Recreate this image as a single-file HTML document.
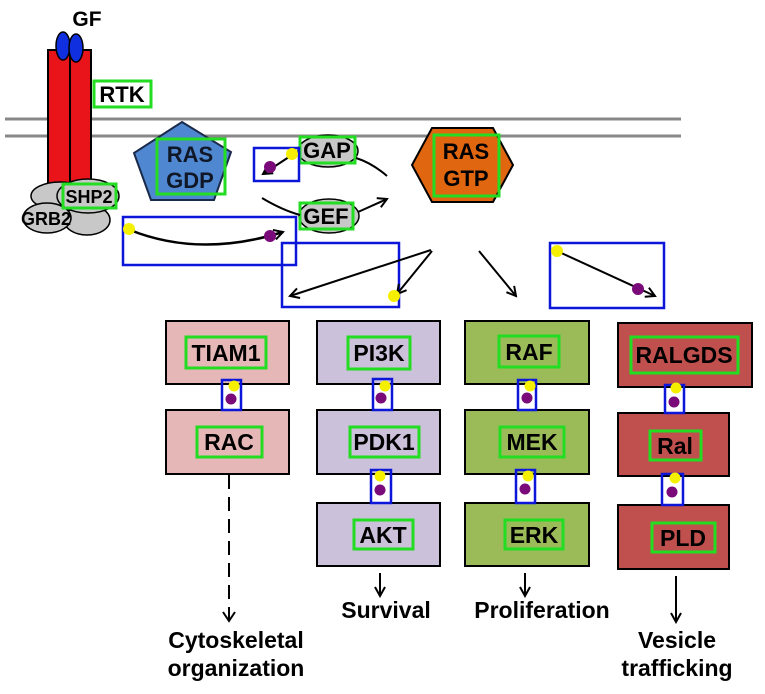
<!DOCTYPE html>
<html><head><meta charset="utf-8"><style>
html,body{margin:0;padding:0;background:#fff;}
svg{display:block;font-family:"Liberation Sans",Arial,sans-serif;font-weight:bold;}
</style></head><body>
<svg width="765" height="694" viewBox="0 0 765 694" xmlns="http://www.w3.org/2000/svg">
<defs>
<marker id="ah" markerWidth="12" markerHeight="12" refX="10" refY="6" orient="auto" markerUnits="userSpaceOnUse">
<path d="M1,1 L10,6 L1,11" fill="none" stroke="#000" stroke-width="2"/>
</marker>
</defs>
<line x1="5" y1="119" x2="681" y2="119" stroke="#888" stroke-width="3"/>
<line x1="5" y1="136" x2="681" y2="136" stroke="#888" stroke-width="3"/>
<rect x="48" y="50" width="22" height="140" fill="#e8141a" stroke="#000" stroke-width="2"/>
<rect x="70" y="50" width="21" height="140" fill="#e8141a" stroke="#000" stroke-width="2"/>
<ellipse cx="63" cy="46" rx="7" ry="14" fill="#1030e0" stroke="#000" stroke-width="1.5"/>
<ellipse cx="76" cy="48" rx="7" ry="14" fill="#1030e0" stroke="#000" stroke-width="1.5"/>
<text x="87" y="26" font-size="21" text-anchor="middle">GF</text>
<rect x="94" y="81" width="57" height="26" fill="#fff" stroke="#22dd22" stroke-width="3"/>
<text x="122" y="102" font-size="22" text-anchor="middle">RTK</text>
<ellipse cx="60" cy="196" rx="29" ry="14" fill="#c8c8c8" stroke="#000" stroke-width="1.5"/>
<ellipse cx="87" cy="220" rx="23" ry="15" fill="#c8c8c8" stroke="#000" stroke-width="1.5"/>
<ellipse cx="88" cy="196" rx="31" ry="17" fill="#c8c8c8" stroke="#000" stroke-width="1.5"/>
<ellipse cx="47" cy="218" rx="24" ry="15" fill="#c8c8c8" stroke="#000" stroke-width="1.5"/>
<text x="46" y="225" font-size="18" text-anchor="middle">GRB2</text>
<rect x="63" y="184" width="53" height="24" fill="none" stroke="#22dd22" stroke-width="3"/>
<text x="89" y="203" font-size="18" text-anchor="middle">SHP2</text>
<polygon points="182,122 231,152 214,200 151,200 134,153" fill="#4f88d0" stroke="#1a2a4a" stroke-width="2"/>
<rect x="157" y="139" width="68" height="55" fill="none" stroke="#22dd22" stroke-width="3"/>
<text x="190" y="162" font-size="22" text-anchor="middle" fill="#101828">RAS</text>
<text x="190" y="188" font-size="22" text-anchor="middle" fill="#101828">GDP</text>
<ellipse cx="328" cy="151" rx="30" ry="16" fill="#c8c8c8" stroke="#000" stroke-width="1.5"/>
<rect x="300" y="137" width="55" height="26" fill="none" stroke="#22dd22" stroke-width="3"/>
<text x="327" y="158" font-size="22" text-anchor="middle">GAP</text>
<ellipse cx="329" cy="216" rx="30" ry="17" fill="#c8c8c8" stroke="#000" stroke-width="1.5"/>
<rect x="300" y="203" width="53" height="26" fill="none" stroke="#22dd22" stroke-width="3"/>
<text x="326" y="224" font-size="22" text-anchor="middle">GEF</text>
<path d="M356,158 Q372,163 387,176" fill="none" stroke="#000" stroke-width="2"/>
<path d="M262,198 Q282,210 300,215" fill="none" stroke="#000" stroke-width="2"/>
<path d="M358,212 L387,199" fill="none" stroke="#000" stroke-width="2" marker-end="url(#ah)"/>
<rect x="254" y="148" width="45" height="33" fill="none" stroke="#0b16d8" stroke-width="2.5"/>
<path d="M292,155 L263,174" stroke="#000" stroke-width="2" marker-end="url(#ah)"/>
<circle cx="292" cy="154" r="6" fill="#f5f000"/>
<circle cx="270" cy="167" r="6" fill="#7a0a7a"/>
<rect x="123" y="217" width="173" height="48" fill="none" stroke="#0b16d8" stroke-width="2.5"/>
<path d="M130,230 Q200,258 283,232" fill="none" stroke="#000" stroke-width="2.5" marker-end="url(#ah)"/>
<circle cx="129" cy="229" r="6" fill="#f5f000"/>
<circle cx="270" cy="236" r="6" fill="#7a0a7a"/>
<polygon points="432,128 493,128 513,165 493,202 432,202 412,165" fill="#e0660f" stroke="#000" stroke-width="2"/>
<rect x="434" y="135" width="65" height="61" fill="none" stroke="#22dd22" stroke-width="3"/>
<text x="466" y="159" font-size="22" text-anchor="middle">RAS</text>
<text x="466" y="186" font-size="22" text-anchor="middle">GTP</text>
<rect x="282" y="243" width="117" height="64" fill="none" stroke="#0b16d8" stroke-width="2.5"/>
<path d="M431,250 L290,296" stroke="#000" stroke-width="2" marker-end="url(#ah)"/>
<path d="M432,251 L397,294" stroke="#000" stroke-width="2" marker-end="url(#ah)"/>
<circle cx="394" cy="296" r="6" fill="#f5f000"/>
<path d="M479,251 L516,296" stroke="#000" stroke-width="2" marker-end="url(#ah)"/>
<rect x="550" y="243" width="114" height="65" fill="none" stroke="#0b16d8" stroke-width="2.5"/>
<path d="M557,251 L655,296" stroke="#000" stroke-width="2" marker-end="url(#ah)"/>
<circle cx="557" cy="251" r="6" fill="#f5f000"/>
<circle cx="638" cy="289" r="6" fill="#7a0a7a"/>
<g stroke="#000" stroke-width="2">
<rect x="166" y="321" width="123" height="63" fill="#e5b8b7"/>
<rect x="166" y="410" width="123" height="64" fill="#e5b8b7"/>
<rect x="317" y="321" width="123" height="63" fill="#ccc1da"/>
<rect x="317" y="410" width="123" height="64" fill="#ccc1da"/>
<rect x="317" y="503" width="123" height="63" fill="#ccc1da"/>
<rect x="465" y="321" width="124" height="63" fill="#9bbb59"/>
<rect x="465" y="410" width="124" height="64" fill="#9bbb59"/>
<rect x="465" y="503" width="124" height="63" fill="#9bbb59"/>
<rect x="618" y="323" width="134" height="64" fill="#c0504d"/>
<rect x="618" y="413" width="111" height="63" fill="#c0504d"/>
<rect x="618" y="505" width="111" height="64" fill="#c0504d"/>
</g>
<g fill="none" stroke="#22dd22" stroke-width="3">
<rect x="186" y="337" width="80" height="31"/>
<rect x="197" y="427" width="65" height="30"/>
<rect x="348" y="337" width="62" height="32"/>
<rect x="350" y="427" width="69" height="30"/>
<rect x="354" y="520" width="59" height="29"/>
<rect x="499" y="336" width="60" height="31"/>
<rect x="500" y="427" width="64" height="30"/>
<rect x="505" y="520" width="58" height="29"/>
<rect x="631" y="337" width="107" height="36"/>
<rect x="650" y="431" width="51" height="29"/>
<rect x="652" y="523" width="63" height="29"/>
</g>
<g font-size="23" text-anchor="middle">
<text x="226" y="361">TIAM1</text>
<text x="229" y="450">RAC</text>
<text x="379" y="361">PI3K</text>
<text x="384" y="450">PDK1</text>
<text x="383" y="543">AKT</text>
<text x="529" y="360">RAF</text>
<text x="532" y="450">MEK</text>
<text x="534" y="543">ERK</text>
<text x="684" y="363">RALGDS</text>
<text x="675" y="454">Ral</text>
<text x="683" y="546">PLD</text>
</g>
<g>
<rect x="222" y="380" width="19" height="30" fill="none" stroke="#0b16d8" stroke-width="2.5"/>
<circle cx="234" cy="386" r="5.5" fill="#f5f000"/><circle cx="231" cy="399" r="5.5" fill="#7a0a7a"/>
<rect x="373" y="379" width="19" height="31" fill="none" stroke="#0b16d8" stroke-width="2.5"/>
<circle cx="385" cy="386" r="5.5" fill="#f5f000"/><circle cx="381" cy="398" r="5.5" fill="#7a0a7a"/>
<rect x="371" y="470" width="20" height="33" fill="none" stroke="#0b16d8" stroke-width="2.5"/>
<circle cx="380" cy="476" r="5.5" fill="#f5f000"/><circle cx="380" cy="490" r="5.5" fill="#7a0a7a"/>
<rect x="518" y="380" width="18" height="30" fill="none" stroke="#0b16d8" stroke-width="2.5"/>
<circle cx="530" cy="386" r="5.5" fill="#f5f000"/><circle cx="527" cy="398" r="5.5" fill="#7a0a7a"/>
<rect x="516" y="470" width="19" height="33" fill="none" stroke="#0b16d8" stroke-width="2.5"/>
<circle cx="528" cy="476" r="5.5" fill="#f5f000"/><circle cx="525" cy="489" r="5.5" fill="#7a0a7a"/>
<rect x="665" y="385" width="19" height="28" fill="none" stroke="#0b16d8" stroke-width="2.5"/>
<circle cx="676" cy="388" r="5.5" fill="#f5f000"/><circle cx="674" cy="402" r="5.5" fill="#7a0a7a"/>
<rect x="662" y="474" width="21" height="31" fill="none" stroke="#0b16d8" stroke-width="2.5"/>
<circle cx="675" cy="478" r="5.5" fill="#f5f000"/><circle cx="672" cy="492" r="5.5" fill="#7a0a7a"/>
</g>
<path d="M229,475 L229,620" stroke="#000" stroke-width="2" stroke-dasharray="14,8" fill="none"/>
<path d="M223,612 L229,621 L235,612" fill="none" stroke="#000" stroke-width="2"/>
<path d="M380,573 L380,596" stroke="#000" stroke-width="2" marker-end="url(#ah)"/>
<path d="M525,573 L525,596" stroke="#000" stroke-width="2" marker-end="url(#ah)"/>
<path d="M676,576 L676,622" stroke="#000" stroke-width="2" marker-end="url(#ah)"/>
<g font-size="23" text-anchor="middle">
<text x="236" y="648">Cytoskeletal</text>
<text x="236" y="676">organization</text>
<text x="386" y="618">Survival</text>
<text x="542" y="618">Proliferation</text>
<text x="677" y="648">Vesicle</text>
<text x="677" y="676">trafficking</text>
</g>
</svg>
</body></html>
